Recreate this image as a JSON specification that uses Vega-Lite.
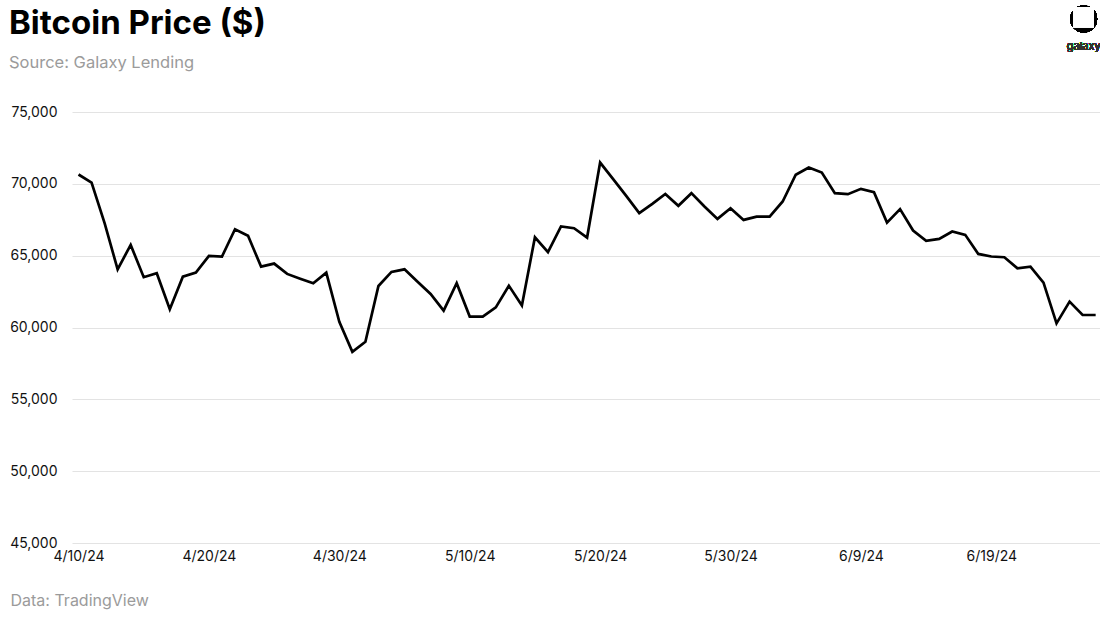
{
  "$schema": "https://vega.github.io/schema/vega-lite/v6.json",
  "autosize": "none",
  "width": 1028,
  "height": 431,
  "padding": {"left": 72, "top": 112, "right": 0, "bottom": 74},
  "background": "#ffffff",
  "config": {
    "font": "Inter",
    "view": {"stroke": null},
    "axis": {"labelFont": "Inter", "titleFont": "Inter"}
  },
  "title": {
    "text": "Bitcoin Price ($)",
    "subtitle": "Source: Galaxy Lending",
    "anchor": "start",
    "frame": "group",
    "dx": -63,
    "offset": -66,
    "font": "Inter",
    "fontSize": 33,
    "fontWeight": "bold",
    "color": "#000000",
    "subtitleFont": "Inter",
    "subtitleFontSize": 16.5,
    "subtitleColor": "#9b9b9b",
    "subtitlePadding": 14
  },
  "data": {
    "values": [
      {"date": "2024-04-10", "price": 70650},
      {"date": "2024-04-11", "price": 70090},
      {"date": "2024-04-12", "price": 67260},
      {"date": "2024-04-13", "price": 64050},
      {"date": "2024-04-14", "price": 65750},
      {"date": "2024-04-15", "price": 63500},
      {"date": "2024-04-16", "price": 63780},
      {"date": "2024-04-17", "price": 61270},
      {"date": "2024-04-18", "price": 63540},
      {"date": "2024-04-19", "price": 63820},
      {"date": "2024-04-20", "price": 64980},
      {"date": "2024-04-21", "price": 64940},
      {"date": "2024-04-22", "price": 66840},
      {"date": "2024-04-23", "price": 66380},
      {"date": "2024-04-24", "price": 64240},
      {"date": "2024-04-25", "price": 64450},
      {"date": "2024-04-26", "price": 63730},
      {"date": "2024-04-27", "price": 63400},
      {"date": "2024-04-28", "price": 63080},
      {"date": "2024-04-29", "price": 63820},
      {"date": "2024-04-30", "price": 60400},
      {"date": "2024-05-01", "price": 58310},
      {"date": "2024-05-02", "price": 59010},
      {"date": "2024-05-03", "price": 62890},
      {"date": "2024-05-04", "price": 63870},
      {"date": "2024-05-05", "price": 64050},
      {"date": "2024-05-06", "price": 63190},
      {"date": "2024-05-07", "price": 62330},
      {"date": "2024-05-08", "price": 61170},
      {"date": "2024-05-09", "price": 63080},
      {"date": "2024-05-10", "price": 60760},
      {"date": "2024-05-11", "price": 60760},
      {"date": "2024-05-12", "price": 61400},
      {"date": "2024-05-13", "price": 62910},
      {"date": "2024-05-14", "price": 61530},
      {"date": "2024-05-15", "price": 66280},
      {"date": "2024-05-16", "price": 65240},
      {"date": "2024-05-17", "price": 67030},
      {"date": "2024-05-18", "price": 66910},
      {"date": "2024-05-19", "price": 66260},
      {"date": "2024-05-20", "price": 71480},
      {"date": "2024-05-21", "price": 70330},
      {"date": "2024-05-22", "price": 69160},
      {"date": "2024-05-23", "price": 67960},
      {"date": "2024-05-24", "price": 68610},
      {"date": "2024-05-25", "price": 69300},
      {"date": "2024-05-26", "price": 68470},
      {"date": "2024-05-27", "price": 69350},
      {"date": "2024-05-28", "price": 68420},
      {"date": "2024-05-29", "price": 67560},
      {"date": "2024-05-30", "price": 68300},
      {"date": "2024-05-31", "price": 67490},
      {"date": "2024-06-01", "price": 67720},
      {"date": "2024-06-02", "price": 67720},
      {"date": "2024-06-03", "price": 68770},
      {"date": "2024-06-04", "price": 70630},
      {"date": "2024-06-05", "price": 71140},
      {"date": "2024-06-06", "price": 70790},
      {"date": "2024-06-07", "price": 69350},
      {"date": "2024-06-08", "price": 69280},
      {"date": "2024-06-09", "price": 69650},
      {"date": "2024-06-10", "price": 69420},
      {"date": "2024-06-11", "price": 67300},
      {"date": "2024-06-12", "price": 68240},
      {"date": "2024-06-13", "price": 66750},
      {"date": "2024-06-14", "price": 66030},
      {"date": "2024-06-15", "price": 66170},
      {"date": "2024-06-16", "price": 66680},
      {"date": "2024-06-17", "price": 66450},
      {"date": "2024-06-18", "price": 65120},
      {"date": "2024-06-19", "price": 64940},
      {"date": "2024-06-20", "price": 64890},
      {"date": "2024-06-21", "price": 64120},
      {"date": "2024-06-22", "price": 64240},
      {"date": "2024-06-23", "price": 63120},
      {"date": "2024-06-24", "price": 60290},
      {"date": "2024-06-25", "price": 61800},
      {"date": "2024-06-26", "price": 60870},
      {"date": "2024-06-27", "price": 60870}
    ]
  },
  "encoding": {
    "x": {
      "field": "date",
      "type": "temporal",
      "scale": {"type": "utc", "domain": [{"year": 2024, "month": 4, "date": 9, "hours": 12, "utc": true}, {"year": 2024, "month": 6, "date": 27, "hours": 8, "utc": true}]},
      "axis": {
        "title": "Data: TradingView",
        "titleAnchor": "start",
        "titleAlign": "left",
        "titleX": -62,
        "titleY": 62,
        "titleBaseline": "alphabetic",
        "titleFontSize": 16,
        "titleFontWeight": "normal",
        "titleColor": "#9b9b9b",
        "values": [
          {"year": 2024, "month": 4, "date": 10, "utc": true},
          {"year": 2024, "month": 4, "date": 20, "utc": true},
          {"year": 2024, "month": 4, "date": 30, "utc": true},
          {"year": 2024, "month": 5, "date": 10, "utc": true},
          {"year": 2024, "month": 5, "date": 20, "utc": true},
          {"year": 2024, "month": 5, "date": 30, "utc": true},
          {"year": 2024, "month": 6, "date": 9, "utc": true},
          {"year": 2024, "month": 6, "date": 19, "utc": true}
        ],
        "format": "%-m/%-d/%y",
        "labelFontSize": 14,
        "labelColor": "#111111",
        "labelPadding": 6,
        "ticks": false,
        "tickSize": 0,
        "domain": false,
        "grid": false,
        "labelFlush": false,
        "labelOverlap": false
      }
    },
    "y": {
      "field": "price",
      "type": "quantitative",
      "scale": {"domain": [45000, 75000], "nice": false, "zero": false},
      "axis": {
        "title": null,
        "values": [45000, 50000, 55000, 60000, 65000, 70000, 75000],
        "format": ",d",
        "labelFontSize": 14,
        "labelColor": "#111111",
        "labelPadding": 15,
        "ticks": false,
        "tickSize": 0,
        "domain": false,
        "grid": true,
        "gridColor": "#e3e3e3",
        "gridWidth": 1
      }
    }
  },
  "layer": [
    {
      "mark": {"type": "line", "color": "#000000", "strokeWidth": 2.7, "strokeJoin": "miter", "clip": false}
    },
    {
      "mark": {"type": "point", "shape": "circle", "filled": true, "color": "#000000", "size": 720, "opacity": 1},
      "encoding": {
        "x": {"datum": {"year": 2024, "month": 6, "date": 26, "hours": 2, "utc": true}, "type": "temporal"},
        "y": {"datum": 81480, "type": "quantitative"}
      }
    },
    {
      "mark": {"type": "square", "filled": true, "color": "#ffffff", "size": 400, "opacity": 1, "cornerRadius": 3},
      "encoding": {
        "x": {"datum": {"year": 2024, "month": 6, "date": 26, "hours": 2, "utc": true}, "type": "temporal"},
        "y": {"datum": 81600, "type": "quantitative"}
      }
    },
    {
      "mark": {"type": "text", "text": "galaxy", "font": "Inter", "fontSize": 11, "color": "#333333", "align": "center", "baseline": "middle"},
      "encoding": {
        "x": {"datum": {"year": 2024, "month": 6, "date": 26, "hours": 2, "utc": true}, "type": "temporal"},
        "y": {"datum": 79550, "type": "quantitative"}
      }
    }
  ]
}
